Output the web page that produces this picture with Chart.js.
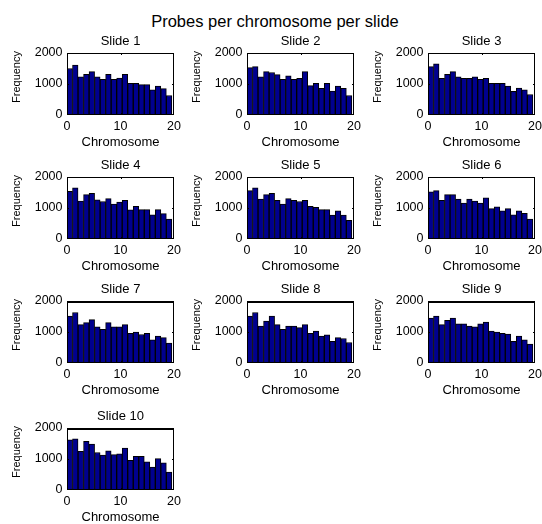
<!DOCTYPE html>
<html>
<head>
<meta charset="utf-8">
<script src="https://cdn.jsdelivr.net/npm/chart.js@4.4.1/dist/chart.umd.min.js"></script>
<style>
  html, body { margin: 0; padding: 0; background: #fff; width: 542px; height: 524px; overflow: hidden; }
  #fig { position: relative; width: 542px; height: 524px; }
  #fig canvas { position: absolute; }
  #suptitle { position: absolute; left: 0; width: 550px; top: 11px; text-align: center;
              font: 16.5px "Liberation Sans", Arial, sans-serif; line-height: 20px; color: #000; }
</style>
</head>
<body>
<div id="fig"><div id="suptitle">Probes per chromosome per slide</div></div>
<script>
// Probe counts per chromosome bin, one array per slide
const slide1  = [1500, 1610, 1230, 1310, 1400, 1230, 1150, 1310, 1150, 1190, 1310, 1020, 1020, 980, 980, 810, 930, 850, 630];
const slide2  = [1530, 1560, 1230, 1400, 1370, 1300, 1150, 1260, 1150, 1180, 1400, 950, 1020, 860, 1020, 770, 930, 860, 630];
const slide3  = [1560, 1650, 1180, 1310, 1400, 1230, 1180, 1180, 1230, 1150, 1180, 1020, 1020, 1020, 930, 760, 870, 810, 660];
const slide4  = [1540, 1650, 1220, 1430, 1470, 1260, 1210, 1300, 1130, 1190, 1250, 940, 1050, 950, 950, 780, 950, 820, 640];
const slide5  = [1560, 1650, 1290, 1430, 1470, 1250, 1130, 1300, 1250, 1210, 1250, 1050, 1020, 950, 950, 770, 910, 770, 600];
const slide6  = [1520, 1560, 1250, 1430, 1430, 1290, 1160, 1290, 1220, 1160, 1330, 980, 1040, 910, 980, 780, 910, 830, 640];
const slide7  = [1510, 1630, 1240, 1300, 1400, 1170, 1090, 1300, 1170, 1170, 1240, 960, 1000, 920, 960, 750, 870, 820, 640];
const slide8  = [1510, 1630, 1190, 1350, 1510, 1240, 1090, 1190, 1190, 1140, 1240, 960, 1030, 870, 910, 700, 820, 790, 660];
const slide9  = [1450, 1510, 1240, 1380, 1450, 1260, 1260, 1190, 1170, 1260, 1320, 1030, 1000, 960, 930, 700, 870, 750, 610];
const slide10 = [1620, 1650, 1250, 1570, 1480, 1210, 1130, 1260, 1140, 1170, 1350, 960, 1090, 1090, 910, 740, 1010, 880, 580];

const slideNames = ['Slide 1', 'Slide 2', 'Slide 3', 'Slide 4', 'Slide 5',
                    'Slide 6', 'Slide 7', 'Slide 8', 'Slide 9', 'Slide 10'];
const slideCounts = [slide1, slide2, slide3, slide4, slide5, slide6, slide7, slide8, slide9, slide10];

// Histogram range on the chromosome axis and axis ticks
const histRange = [0, 19.6];
const xTicks = [0, 10, 20];
const yTicks = [0, 1000, 2000];

// Subplot grid geometry (plot area of each panel); the canvas is symmetric
// around the plot area so the panel title is centred over it
const colLeft = [67, 247, 428];
const rowTop = [53, 177, 301, 428];
const plotW = 107, plotH = 62;
const padX = 62, padT = 22, padB = 36;

const FONT = '"Liberation Sans", Arial, sans-serif';
Chart.defaults.font.family = FONT;
Chart.defaults.color = '#000';

// Axes box, interior tick marks and the rotated y label
const framePlugin = {
  id: 'frame',
  afterDatasetsDraw(chart, args, opts) {
    const { ctx, chartArea: a, scales: { x, y } } = chart;
    ctx.save();
    ctx.strokeStyle = '#000';
    ctx.lineWidth = 1;
    ctx.beginPath();
    for (const v of yTicks.slice(1, -1)) {
      const py = Math.round(y.getPixelForValue(v)) + 0.5;
      ctx.moveTo(a.left, py); ctx.lineTo(a.left + 2, py);
      ctx.moveTo(a.right, py); ctx.lineTo(a.right - 2, py);
    }
    for (const v of xTicks.slice(1, -1)) {
      const px = Math.round(x.getPixelForValue(v)) + 0.5;
      ctx.moveTo(px, a.top); ctx.lineTo(px, a.top + 2);
      ctx.moveTo(px, a.bottom); ctx.lineTo(px, a.bottom - 2);
    }
    ctx.stroke();
    ctx.strokeRect(a.left + 0.5, a.top + 0.5, a.width - 1, a.height - 1);
    if (opts.heavyTop) {
      ctx.beginPath();
      ctx.moveTo(a.left, a.top + 1.5); ctx.lineTo(a.right, a.top + 1.5);
      ctx.stroke();
    }
    ctx.translate(a.left - 50, (a.top + a.bottom) / 2 - 7);
    ctx.rotate(-Math.PI / 2);
    ctx.font = '11px ' + FONT;
    ctx.fillStyle = '#000';
    ctx.textAlign = 'center';
    ctx.textBaseline = 'middle';
    ctx.fillText('Frequency', 0, 0);
    ctx.restore();
  }
};

const fig = document.getElementById('fig');

slideCounts.forEach((counts, k) => {
  const row = Math.floor(k / 3), col = k % 3;
  const canvas = document.createElement('canvas');
  const cw = padX + plotW + padX, ch = padT + plotH + padB;
  canvas.width = cw; canvas.height = ch;
  canvas.style.width = cw + 'px'; canvas.style.height = ch + 'px';
  canvas.style.left = (colLeft[col] - padX) + 'px';
  canvas.style.top = (rowTop[row] - padT) + 'px';
  fig.appendChild(canvas);

  const binWidth = (histRange[1] - histRange[0]) / counts.length;
  const points = counts.map((v, i) => ({ x: histRange[0] + (i + 0.5) * binWidth, y: v }));

  new Chart(canvas, {
    type: 'bar',
    data: {
      datasets: [{
        data: points,
        backgroundColor: '#00008f',
        borderColor: '#000',
        borderWidth: 1,
        borderSkipped: false,
        categoryPercentage: 1,
        barPercentage: 1
      }]
    },
    plugins: [framePlugin],
    options: {
      responsive: false,
      animation: false,
      events: [],
      layout: { padding: 0 },
      plugins: {
        legend: { display: false },
        tooltip: { enabled: false },
        title: {
          display: true,
          text: slideNames[k],
          align: 'center',
          font: { size: 13, weight: 'normal' },
          color: '#000',
          padding: { top: 2.7, bottom: 3.7 }
        },
        frame: { heavyTop: row >= 2 }
      },
      scales: {
        x: {
          type: 'linear',
          min: xTicks[0],
          max: xTicks[xTicks.length - 1],
          offset: false,
          grid: { display: false, drawTicks: false },
          border: { display: false },
          afterBuildTicks: s => { s.ticks = xTicks.map(v => ({ value: v })); },
          ticks: { font: { size: 12.5 }, padding: 4.5, maxRotation: 0, color: '#000',
                   callback: v => String(v) },
          title: { display: true, text: 'Chromosome', font: { size: 13 }, color: '#000',
                   padding: { top: 0, bottom: 1.2 } },
          // reserve the same margin on the right as the y axis takes on the left
          afterFit: s => { s.height = padB; s.paddingLeft = 0; s.paddingRight = padX; }
        },
        y: {
          min: yTicks[0],
          max: yTicks[yTicks.length - 1],
          grid: { display: false, drawTicks: false },
          border: { display: false },
          afterBuildTicks: s => { s.ticks = yTicks.map(v => ({ value: v })); },
          ticks: { font: { size: 12.5 }, padding: 4.5, color: '#000',
                   callback: v => String(v) },
          afterFit: s => { s.width = padX; s.paddingTop = 0; s.paddingBottom = 0; }
        }
      }
    }
  });
});
</script>
</body>
</html>
